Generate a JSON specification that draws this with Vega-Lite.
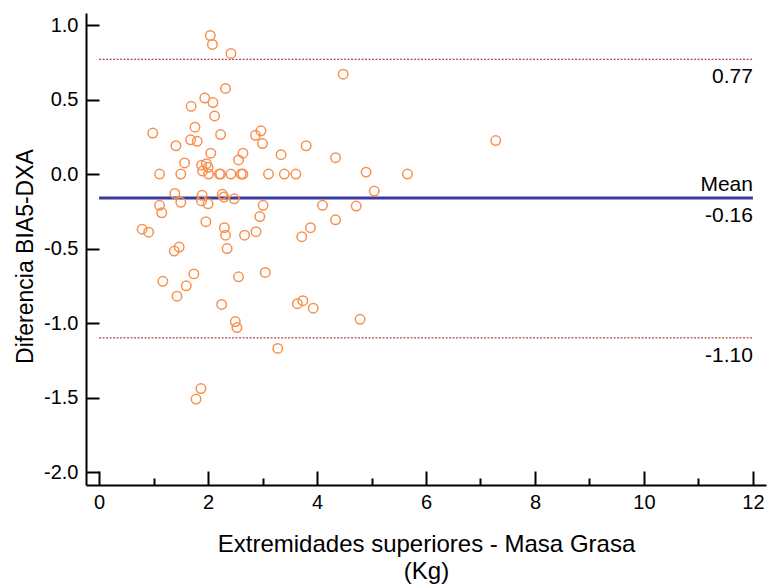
{
  "$schema": "https://vega.github.io/schema/vega-lite/v6.json",
  "width": 680,
  "height": 472,
  "autosize": {"type": "none"},
  "padding": {"left": 86, "top": 13, "right": 6, "bottom": 99},
  "background": "white",
  "config": {"view": {"stroke": null}, "font": "Liberation Sans"},
  "datasets": {
    "points": [
      {"x": 2.04, "y": 0.93}, {"x": 2.08, "y": 0.87}, {"x": 2.42, "y": 0.81}, {"x": 2.32, "y": 0.575},
      {"x": 1.94, "y": 0.51}, {"x": 2.09, "y": 0.48}, {"x": 1.69, "y": 0.455}, {"x": 2.12, "y": 0.39},
      {"x": 1.76, "y": 0.315}, {"x": 0.985, "y": 0.275}, {"x": 2.97, "y": 0.29}, {"x": 2.87, "y": 0.26},
      {"x": 2.23, "y": 0.265}, {"x": 1.68, "y": 0.23}, {"x": 1.8, "y": 0.22}, {"x": 3.0, "y": 0.205},
      {"x": 1.41, "y": 0.19}, {"x": 3.8, "y": 0.19}, {"x": 2.05, "y": 0.14}, {"x": 2.64, "y": 0.14},
      {"x": 3.34, "y": 0.13}, {"x": 2.56, "y": 0.095}, {"x": 1.57, "y": 0.075}, {"x": 1.88, "y": 0.06},
      {"x": 1.97, "y": 0.07}, {"x": 2.0, "y": 0.045}, {"x": 1.9, "y": 0.02}, {"x": 4.48, "y": 0.67},
      {"x": 7.28, "y": 0.225}, {"x": 4.34, "y": 0.11}, {"x": 4.9, "y": 0.013},
      {"x": 1.11, "y": 0.0}, {"x": 1.5, "y": 0.0}, {"x": 2.01, "y": 0.0}, {"x": 2.21, "y": 0.0},
      {"x": 2.23, "y": 0.0}, {"x": 2.42, "y": 0.0}, {"x": 2.61, "y": 0.0}, {"x": 2.64, "y": 0.0},
      {"x": 3.11, "y": 0.0}, {"x": 3.4, "y": 0.0}, {"x": 3.61, "y": 0.0}, {"x": 5.66, "y": 0.0},
      {"x": 5.05, "y": -0.114}, {"x": 4.1, "y": -0.21}, {"x": 4.72, "y": -0.215}, {"x": 4.34, "y": -0.307},
      {"x": 3.88, "y": -0.36}, {"x": 3.72, "y": -0.42}, {"x": 3.74, "y": -0.85}, {"x": 3.64, "y": -0.87},
      {"x": 3.93, "y": -0.9}, {"x": 4.79, "y": -0.975}, {"x": 1.39, "y": -0.13}, {"x": 1.89, "y": -0.143},
      {"x": 2.26, "y": -0.136}, {"x": 2.29, "y": -0.154}, {"x": 1.5, "y": -0.19}, {"x": 1.88, "y": -0.18},
      {"x": 2.0, "y": -0.2}, {"x": 2.48, "y": -0.166}, {"x": 1.11, "y": -0.21}, {"x": 1.15, "y": -0.26},
      {"x": 3.01, "y": -0.21}, {"x": 2.95, "y": -0.285}, {"x": 1.96, "y": -0.32}, {"x": 0.79, "y": -0.37},
      {"x": 0.91, "y": -0.39}, {"x": 2.3, "y": -0.36}, {"x": 2.32, "y": -0.41}, {"x": 2.67, "y": -0.41},
      {"x": 2.88, "y": -0.387}, {"x": 1.38, "y": -0.517}, {"x": 1.47, "y": -0.49}, {"x": 2.35, "y": -0.5},
      {"x": 1.17, "y": -0.72}, {"x": 1.74, "y": -0.67}, {"x": 2.56, "y": -0.69}, {"x": 3.05, "y": -0.66},
      {"x": 1.6, "y": -0.75}, {"x": 1.43, "y": -0.82}, {"x": 2.25, "y": -0.875}, {"x": 2.5, "y": -0.99},
      {"x": 2.53, "y": -1.03}, {"x": 3.28, "y": -1.17}, {"x": 1.87, "y": -1.44}, {"x": 1.78, "y": -1.51}
    ],
    "limits": [{"x": 0, "xend": 12, "y": 0.77}, {"x": 0, "xend": 12, "y": -1.1}],
    "mean": [{"x": 0, "xend": 12, "y": -0.16}],
    "below": [{"x": 12, "y": 0.77, "label": "0.77"}, {"x": 12, "y": -0.16, "label": "-0.16"}, {"x": 12, "y": -1.1, "label": "-1.10"}],
    "above": [{"x": 12, "y": -0.16, "label": "Mean"}]
  },
  "encoding": {
    "x": {
      "field": "x", "type": "quantitative",
      "scale": {"domain": [-0.24, 12.24], "nice": false, "zero": false},
      "axis": {
        "values": [0, 1, 2, 3, 4, 5, 6, 7, 8, 9, 10, 11, 12],
        "labelExpr": "datum.value % 2 === 0 ? datum.label : ''",
        "tickSize": {"condition": {"test": "datum.value % 2 === 1", "value": -7}, "value": -14},
        "tickWidth": 2, "tickColor": "black", "domainColor": "black", "domainWidth": 2,
        "labelFontSize": 20, "labelColor": "#000", "labelPadding": 21, "labelFont": "Liberation Sans",
        "labelFlush": false, "labelOverlap": false, "grid": false,
        "title": ["Extremidades superiores - Masa Grasa", "(Kg)"],
        "titleFont": "Liberation Sans", "titleFontSize": 24, "titleFontWeight": "normal", "titleColor": "#000",
        "titleLineHeight": 27, "titleBaseline": "top", "titleY": 47
      }
    },
    "y": {
      "field": "y", "type": "quantitative",
      "scale": {"domain": [-2.087, 1.081], "nice": false, "zero": false},
      "axis": {
        "values": [-2, -1.5, -1, -0.5, 0, 0.5, 1],
        "labelExpr": "replace(format(datum.value, '.1f'), '\u2212', '-')",
        "tickSize": -13, "tickWidth": 2, "tickColor": "black", "domainColor": "black", "domainWidth": 2,
        "labelFontSize": 20, "labelColor": "#000", "labelPadding": 21, "labelFont": "Liberation Sans",
        "labelFlush": false, "labelOverlap": false, "grid": false,
        "title": "Diferencia BIA5-DXA",
        "titleFont": "Liberation Sans", "titleFontSize": 23, "titleFontWeight": "normal", "titleColor": "#000",
        "titleBaseline": "alphabetic", "titleX": -54, "titleY": 243, "titleAngle": -90
      }
    }
  },
  "layer": [
    {
      "data": {"name": "limits"},
      "mark": {"type": "rule", "color": "#b04a4a", "strokeWidth": 1.2, "strokeDash": [2, 1.5]},
      "encoding": {"x2": {"field": "xend"}}
    },
    {
      "data": {"name": "mean"},
      "mark": {"type": "rule", "color": "#3a3a9e", "strokeWidth": 3},
      "encoding": {"x2": {"field": "xend"}}
    },
    {
      "data": {"name": "points"},
      "mark": {"type": "point", "shape": "circle", "filled": false, "stroke": "#f7914d", "strokeWidth": 1.5, "size": 90, "opacity": 1}
    },
    {
      "data": {"name": "below"},
      "mark": {"type": "text", "align": "right", "baseline": "alphabetic", "dy": 24, "fontSize": 21, "color": "#000", "font": "Liberation Sans"},
      "encoding": {"text": {"field": "label"}}
    },
    {
      "data": {"name": "above"},
      "mark": {"type": "text", "align": "right", "baseline": "alphabetic", "dy": -7, "fontSize": 21, "color": "#000", "font": "Liberation Sans"},
      "encoding": {"text": {"field": "label"}}
    }
  ]
}
